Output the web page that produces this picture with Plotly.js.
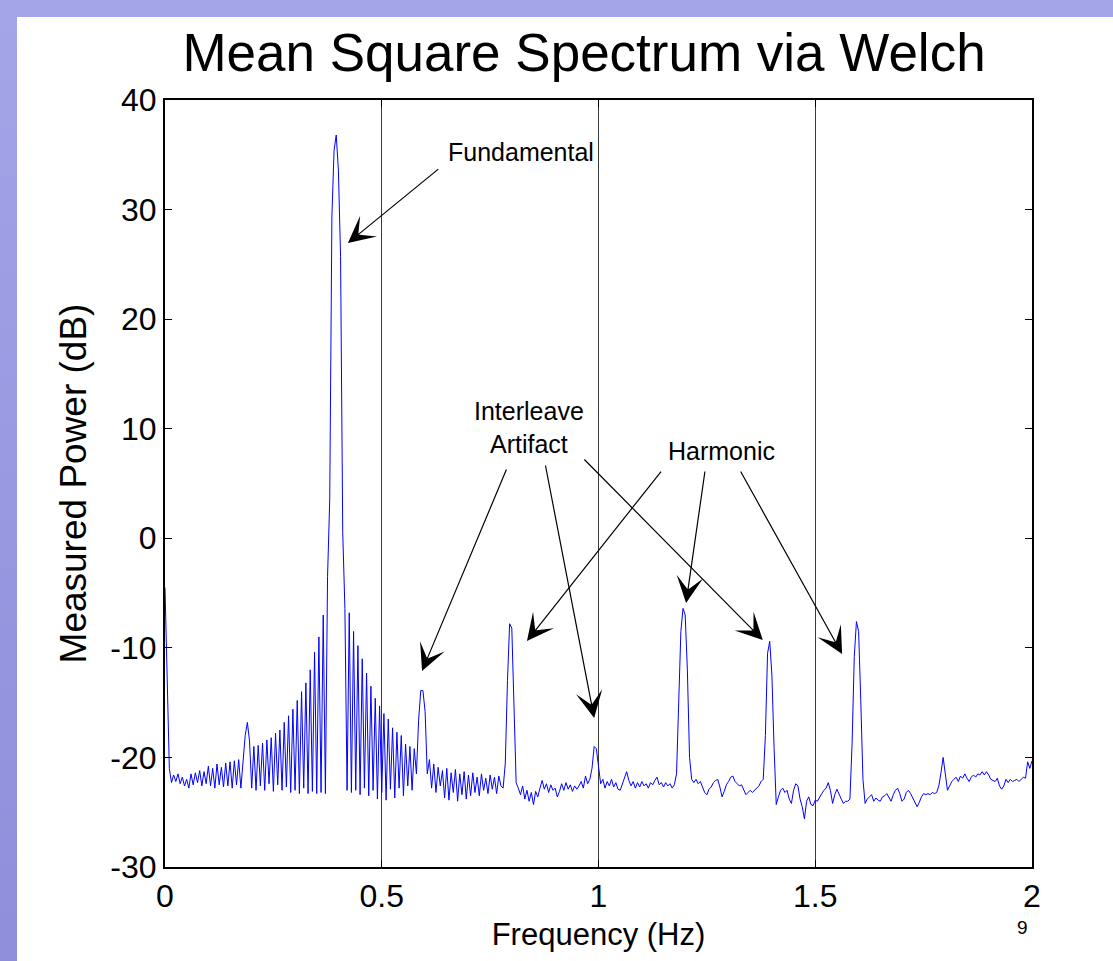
<!DOCTYPE html>
<html>
<head>
<meta charset="utf-8">
<script src="https://cdn.plot.ly/plotly-3.0.1.min.js"></script>
<style>
  html, body { margin: 0; padding: 0; background: #ffffff; }
  #wrap { position: relative; width: 1113px; height: 961px; overflow: hidden; }
  #chart { position: absolute; left: 0; top: 0; width: 1113px; height: 961px; }
  #topStrip { position: absolute; left: 0; top: 0; width: 1113px; height: 17px; background: #a4a4e8; z-index: 5; pointer-events: none; }
  #leftStrip { position: absolute; left: 0; top: 0; width: 17px; height: 961px; background: linear-gradient(#a4a4e8, #8e8edb); z-index: 5; pointer-events: none; }
</style>
</head>
<body>
<div id="wrap">
  <div id="chart"></div>
  <div id="topStrip"></div>
  <div id="leftStrip"></div>
</div>
<script>
// Welch frequency bins: start and spacing (Hz)
const binStart = 0;
const binWidth = 0.005;

// Measured power (dB), one value per frequency bin, 0 .. 2 Hz (rows of 0.1 Hz)
const power = [
  -4.5, -12.0, -21.0, -22.3, -21.6, -22.2, -21.5, -22.4, -21.8, -22.6, -22.0, -22.8, -21.5, -22.5, -21.4, -22.3, -21.2, -22.6, -21.3, -22.4,
  -20.8, -22.6, -21.0, -22.8, -20.6, -22.5, -20.9, -22.7, -20.5, -22.6, -20.4, -22.8, -20.3, -22.5, -20.2, -22.8, -20.0, -18.0, -16.8, -18.5,
  -22.8, -19.0, -23.0, -18.9, -22.6, -18.7, -23.0, -18.4, -22.4, -18.2, -23.1, -17.8, -22.5, -17.5, -23.0, -16.8, -22.7, -16.2, -23.2, -15.6,
  -23.0, -14.8, -23.3, -14.0, -22.8, -13.2, -23.3, -12.0, -23.1, -10.4, -23.3, -9.0, -23.2, -7.0, -23.3, -3.5, 3.5, 29.4, 35.4, 36.8,
  33.6, 25.7, 0.5, -6.4, -23.0, -6.8, -23.2, -8.5, -23.0, -9.8, -23.4, -11.0, -22.8, -12.3, -23.5, -13.5, -23.0, -14.6, -23.8, -15.3,
  -23.2, -16.0, -23.9, -16.5, -22.9, -17.3, -23.7, -17.7, -22.8, -18.0, -23.5, -18.8, -22.6, -19.0, -23.0, -19.2, -21.5, -16.6, -13.9, -13.9,
  -15.8, -21.5, -20.2, -22.8, -20.6, -23.2, -20.9, -22.6, -21.2, -23.7, -21.0, -23.9, -21.4, -23.2, -21.1, -24.0, -21.5, -23.4, -21.3, -23.8,
  -21.6, -23.5, -21.4, -23.2, -21.8, -23.5, -21.5, -23.0, -21.9, -23.3, -21.6, -22.9, -21.8, -23.3, -21.7, -22.6, -22.8, -20.5, -13.0, -7.8,
  -8.2, -15.0, -22.3, -22.8, -23.4, -22.6, -23.8, -23.0, -24.0, -23.2, -24.3, -23.1, -23.6, -22.8, -22.1, -22.9, -22.4, -23.2, -22.5, -23.0,
  -22.8, -23.6, -23.1, -22.4, -23.0, -22.3, -22.9, -22.5, -23.1, -22.6, -22.9, -22.6, -22.2, -22.8, -21.7, -22.4, -22.0, -21.0, -19.0, -19.2,
  -21.0, -22.4, -22.0, -22.8, -22.2, -22.6, -22.0, -22.7, -22.3, -22.9, -23.0, -22.4, -22.0, -21.3, -22.1, -22.6, -22.2, -22.8, -22.3, -22.7,
  -22.2, -22.6, -22.4, -22.8, -22.3, -22.5, -22.1, -21.8, -22.5, -22.3, -22.7, -22.3, -22.6, -22.4, -22.8, -22.5, -21.5, -14.0, -8.5, -6.4,
  -7.0, -12.0, -20.0, -22.0, -22.3, -22.0, -22.4, -22.2, -22.8, -23.2, -23.4, -22.9, -22.7, -22.3, -22.1, -22.0, -22.7, -23.6, -23.1, -22.5,
  -22.2, -21.8, -21.7, -22.2, -22.4, -22.6, -22.5, -22.9, -23.4, -23.2, -23.0, -23.2, -23.0, -22.8, -22.6, -22.2, -22.0, -18.0, -10.5, -9.4,
  -12.5, -19.1, -24.3, -23.6, -23.0, -22.8, -23.2, -23.0, -23.8, -24.2, -23.0, -22.4, -22.6, -23.8, -24.5, -25.6, -24.0, -23.6, -24.3, -24.4,
  -23.9, -24.0, -23.6, -23.3, -23.0, -22.8, -22.3, -23.0, -24.2, -23.4, -22.9, -23.4, -23.8, -24.2, -24.0, -24.0, -23.8, -18.7, -10.8, -7.6,
  -8.5, -14.8, -22.0, -24.2, -23.8, -23.6, -23.4, -24.0, -23.7, -23.9, -24.0, -23.6, -23.5, -23.3, -23.6, -24.0, -23.4, -23.0, -22.8, -23.3,
  -24.0, -23.8, -23.2, -23.0, -23.3, -23.7, -24.0, -24.5, -24.1, -23.6, -23.3, -23.4, -23.3, -23.4, -23.2, -23.3, -23.2, -22.6, -21.4, -20.0,
  -21.5, -23.0, -22.6, -22.2, -22.0, -21.8, -22.2, -21.7, -21.9, -21.5, -21.9, -22.2, -21.8, -21.6, -21.8, -21.5, -21.6, -21.3, -21.6, -21.3,
  -21.6, -22.0, -22.1, -22.2, -21.9, -22.6, -22.9, -22.6, -22.0, -22.3, -22.0, -22.2, -22.1, -22.0, -22.2, -22.0, -21.8, -21.9, -20.4, -21.0,
  -20.3
];

// Axis ticks
const xTickVals = [0, 0.5, 1, 1.5, 2];
const xTickText = ['0', '0.5', '1', '1.5', '2'];
const yTickVals = [-30, -20, -10, 0, 10, 20, 30, 40];
const yTickText = ['-30', '-20', '-10', '0', '10', '20', '30', '40'];

// Annotation labels
const labelText = ['Fundamental', 'Interleave<br>Artifact', 'Harmonic'];
const labelFreq = [0.821, 0.840, 1.283];
const labelPower = [35.25, 10.15, 7.97];

// Arrows: tail (from) and tip (to) in data units
const arrowTailFreq = [0.634, 0.789, 0.877, 0.964, 1.147, 1.246, 1.326];
const arrowTailPower = [33.8, 6.41, 6.78, 7.33, 6.23, 6.23, 6.23];
const arrowTipFreq = [0.422, 0.593, 0.990, 1.379, 0.835, 1.202, 1.562];
const arrowTipPower = [26.95, -12.11, -16.4, -9.28, -9.37, -5.9, -10.56];

const freq = power.map((_, i) => +(binStart + i * binWidth).toFixed(4));

const FONT = 'Liberation Sans, Arial, Helvetica, sans-serif';

const trace = {
  x: freq,
  y: power,
  type: 'scatter',
  mode: 'lines',
  line: { color: '#0000ff', width: 1 },
  hoverinfo: 'skip'
};

const annotations = [];
for (let i = 0; i < labelText.length; i++) {
  annotations.push({
    x: labelFreq[i], y: labelPower[i], xref: 'x', yref: 'y',
    text: labelText[i], showarrow: false,
    font: { family: FONT, size: 25, color: '#000000' },
    xanchor: 'center', yanchor: 'middle', align: 'center'
  });
}
for (let i = 0; i < arrowTipFreq.length; i++) {
  annotations.push({
    x: arrowTipFreq[i], y: arrowTipPower[i], xref: 'x', yref: 'y',
    ax: arrowTailFreq[i], ay: arrowTailPower[i], axref: 'x', ayref: 'y',
    text: '', showarrow: true,
    arrowhead: 3, arrowsize: 3.7, arrowwidth: 1.2, arrowcolor: '#000000',
    standoff: 0, startstandoff: 0
  });
}
annotations.push({
  x: 0.9896, y: -0.0795, xref: 'paper', yref: 'paper',
  text: '9', showarrow: false,
  font: { family: FONT, size: 19, color: '#000000' },
  xanchor: 'center', yanchor: 'middle'
});

const layout = {
  width: 1113,
  height: 961,
  margin: { l: 165, r: 81, t: 100, b: 94, pad: 0 },
  paper_bgcolor: '#ffffff',
  plot_bgcolor: '#ffffff',
  showlegend: false,
  font: { family: FONT, color: '#000000' },
  title: {
    text: 'Mean Square Spectrum via Welch',
    font: { family: FONT, size: 53, color: '#000000' },
    x: 584 / 1113, xref: 'container', xanchor: 'center',
    y: 1 - 52 / 961, yref: 'container', yanchor: 'middle'
  },
  xaxis: {
    range: [0, 2],
    tickvals: xTickVals, ticktext: xTickText,
    ticks: 'inside', ticklen: 7, tickwidth: 1, tickcolor: '#000000',
    showline: true, linecolor: '#000000', linewidth: 2, mirror: 'ticks',
    showgrid: true, gridcolor: '#3a3a3a', gridwidth: 1,
    zeroline: false,
    tickfont: { family: FONT, size: 32, color: '#000000' },
    title: { text: 'Frequency (Hz)', font: { family: FONT, size: 31, color: '#000000' }, standoff: 10 }
  },
  yaxis: {
    range: [-30, 40],
    tickvals: yTickVals, ticktext: yTickText,
    ticks: 'inside', ticklen: 7, tickwidth: 1, tickcolor: '#000000',
    showline: true, linecolor: '#000000', linewidth: 2, mirror: 'ticks',
    showgrid: false, zeroline: false,
    tickfont: { family: FONT, size: 32, color: '#000000' },
    title: { text: 'Measured Power (dB)', font: { family: FONT, size: 37, color: '#000000' }, standoff: 12 }
  },
  annotations: annotations
};

Plotly.newPlot('chart', [trace], layout, { staticPlot: true, displayModeBar: false });
</script>
</body>
</html>
